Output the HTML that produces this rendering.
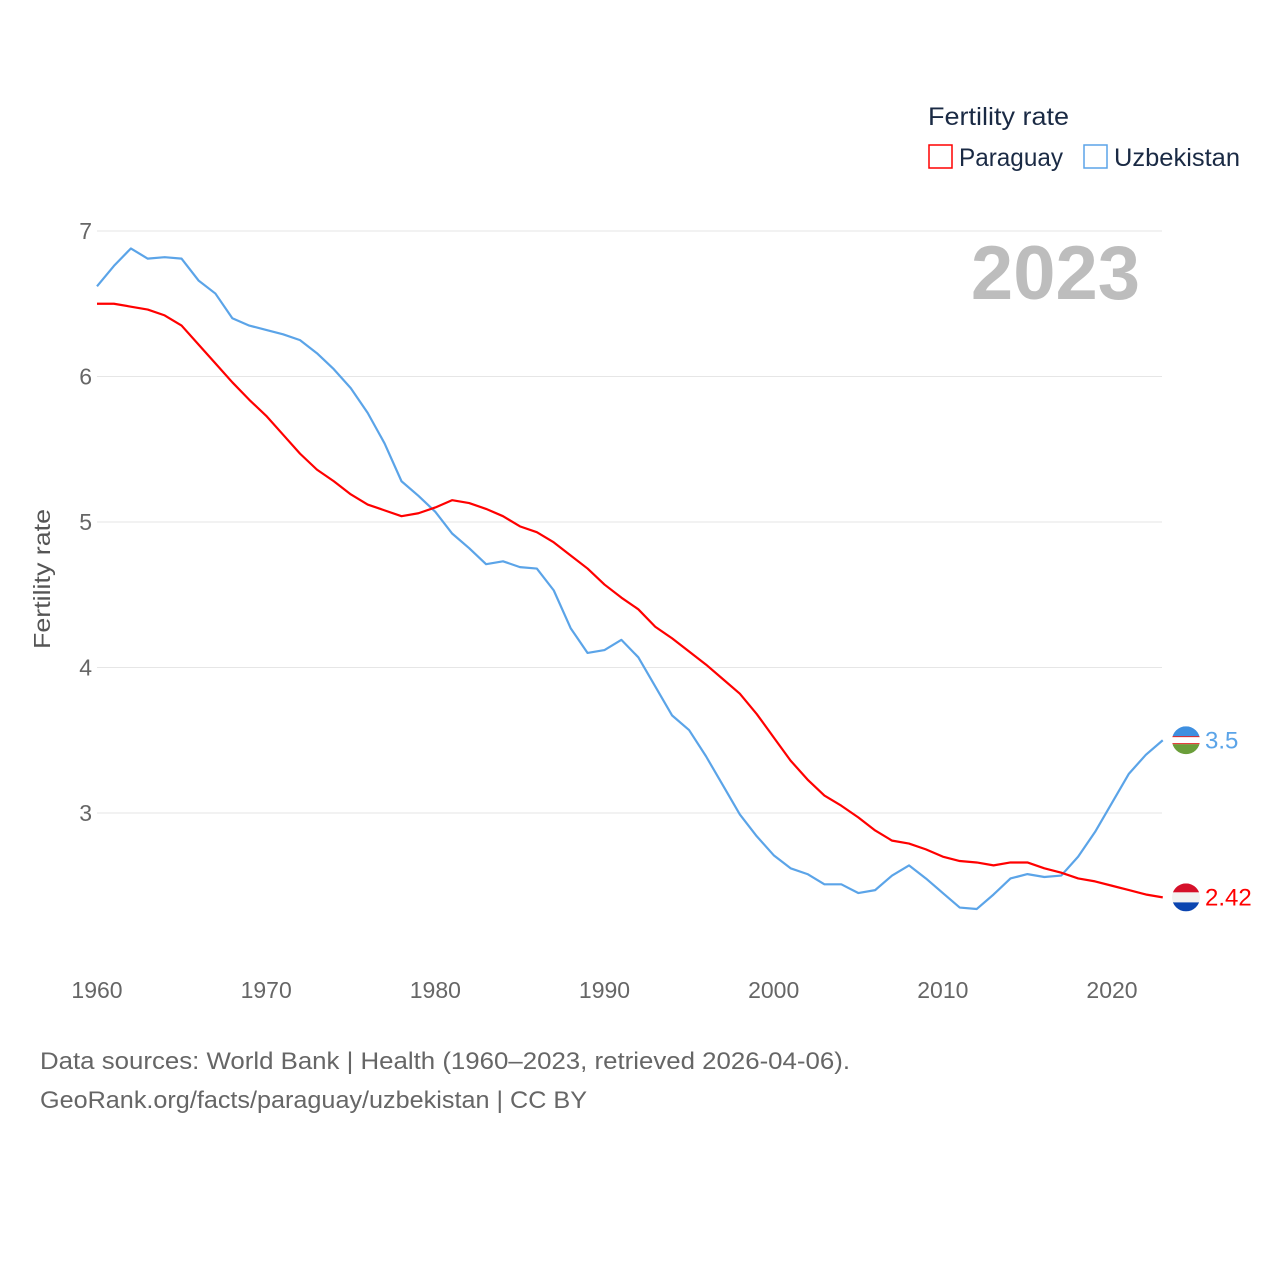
<!DOCTYPE html>
<html><head><meta charset="utf-8"><style>
body{margin:0;background:#fff;font-family:"Liberation Sans",sans-serif}
</style></head><body>
<svg id="chart" width="1280" height="1280" xmlns="http://www.w3.org/2000/svg" font-family="Liberation Sans, sans-serif">
<rect width="1280" height="1280" fill="#fff"/>
<g id="grid"></g>
<g id="xticks"></g>
<text transform="translate(50,579) rotate(-90)" text-anchor="middle" font-size="23" fill="#555" textLength="140" lengthAdjust="spacingAndGlyphs">Fertility rate</text>
<text x="1140" y="299" text-anchor="end" font-size="76" font-weight="bold" fill="#bdbdbd">2023</text>
<text x="928" y="125" font-size="25" fill="#1a2a44" textLength="141" lengthAdjust="spacingAndGlyphs">Fertility rate</text>
<g><rect x="929" y="145" width="23" height="23" fill="none" stroke="#f00" stroke-width="1.5"/><text x="959" y="166" font-size="25" fill="#1a2a44" textLength="104" lengthAdjust="spacingAndGlyphs">Paraguay</text></g>
<g><rect x="1084" y="145" width="23" height="23" fill="none" stroke="#5ba4e8" stroke-width="1.5"/><text x="1114" y="166" font-size="25" fill="#1a2a44" textLength="126" lengthAdjust="spacingAndGlyphs">Uzbekistan</text></g>
<g id="series"></g>
<text x="40" y="1069" font-size="24" fill="#666" textLength="810" lengthAdjust="spacingAndGlyphs">Data sources: World Bank | Health (1960–2023, retrieved 2026-04-06).</text>
<text x="40" y="1108" font-size="24" fill="#666" textLength="547" lengthAdjust="spacingAndGlyphs">GeoRank.org/facts/paraguay/uzbekistan | CC BY</text>
</svg>
<script>
const years=[];for(let y=1960;y<=2023;y++)years.push(y);
const paraguay=[6.50,6.50,6.48,6.46,6.42,6.35,6.22,6.09,5.96,5.84,5.73,5.60,5.47,5.36,5.28,5.19,5.12,5.08,5.04,5.06,5.10,5.15,5.13,5.09,5.04,4.97,4.93,4.86,4.77,4.68,4.57,4.48,4.40,4.28,4.20,4.11,4.02,3.92,3.82,3.68,3.52,3.36,3.23,3.12,3.05,2.97,2.88,2.81,2.79,2.75,2.70,2.67,2.66,2.64,2.66,2.66,2.62,2.59,2.55,2.53,2.50,2.47,2.44,2.42];
const uzbekistan=[6.62,6.76,6.88,6.81,6.82,6.81,6.66,6.57,6.40,6.35,6.32,6.29,6.25,6.16,6.05,5.92,5.75,5.54,5.28,5.18,5.07,4.92,4.82,4.71,4.73,4.69,4.68,4.53,4.27,4.10,4.12,4.19,4.07,3.87,3.67,3.57,3.39,3.19,2.99,2.84,2.71,2.62,2.58,2.51,2.51,2.45,2.47,2.57,2.64,2.55,2.45,2.35,2.34,2.44,2.55,2.58,2.56,2.57,2.70,2.87,3.07,3.27,3.40,3.50];
const yTicks=[3,4,5,6,7];
const xTicks=[1960,1970,1980,1990,2000,2010,2020];
const NS="http://www.w3.org/2000/svg";
const X=y=>97+(y-1960)*(1112-97)/60;
const Y=v=>231+(7-v)*145.5;
function mk(t,a,p){const e=document.createElementNS(NS,t);for(const k in a)e.setAttribute(k,a[k]);p.appendChild(e);return e;}
const grid=document.getElementById('grid');
yTicks.forEach(v=>{
 const l=mk('line',{x1:97,x2:1162,y1:Y(v),y2:Y(v),stroke:'#e6e6e6','stroke-width':1},grid);
 
 
 const t=mk('text',{x:92,y:Y(v)+8,'text-anchor':'end','font-size':23,fill:'#666'},grid);
 
 
 t.textContent=v;
});
const xt=document.getElementById('xticks');
xTicks.forEach(v=>{
 const t=mk('text',{x:X(v),y:998,'text-anchor':'middle','font-size':23,fill:'#666'},xt);
 
 
 t.textContent=v;
});
const sg=document.getElementById('series');
function line(vals,color,name){
 const p=mk('polyline',{points:vals.map((v,i)=>X(years[i])+','+Y(v)).join(' '),fill:'none',stroke:color,'stroke-width':2.2,'stroke-linejoin':'round'},sg);
 
 
}
line(uzbekistan,'#5ba4e8','uzbekistan');
line(paraguay,'#f00','paraguay');
function end(vals,color,name,flag){
 const v=vals[vals.length-1],y=Y(v),cx=1186;
 const g=mk('g',{},sg);
 
 
 const id='c'+name;
 const cp=mk('clipPath',{id:id},g);mk('circle',{cx:cx,cy:y,r:14},cp);
 const fg=mk('g',{'clip-path':'url(#'+id+')'},g);
 flag.forEach(([c,a,b])=>mk('rect',{x:cx-14,y:y-14+a,width:28,height:b-a,fill:c},fg));
 const t=mk('text',{x:1205,y:y+8,'font-size':24,fill:color},g);
 t.textContent=v;
}
end(uzbekistan,'#5ba4e8','uzbekistan',[['#3e8fe0',0,10],['#d00',10,11],['#fff',11,17],['#d00',17,18],['#6b9e3a',18,28]]);
end(paraguay,'#f00','paraguay',[['#d5102a',0,9],['#f2f2f2',9,19],['#0b45b0',19,28]]);
</script>
</body></html>
